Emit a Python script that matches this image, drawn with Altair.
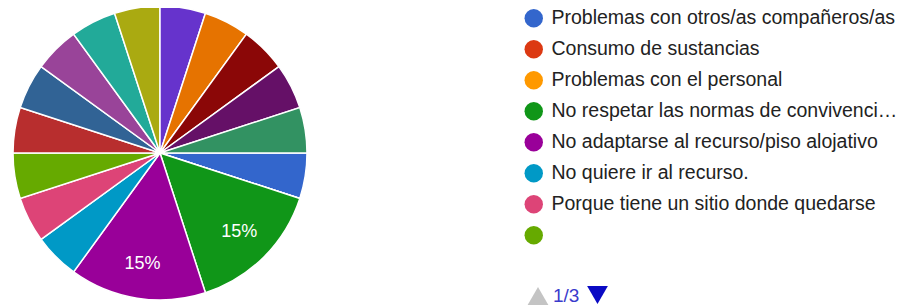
import math
import altair as alt
import pandas as pd

# --- data -------------------------------------------------------------
categories = [
    "Problemas con otros/as compañeros/as",
    "Consumo de sustancias",
    "Problemas con el personal",
    "No respetar las normas de convivencia del recurso",
    "No adaptarse al recurso/piso alojativo",
    "No quiere ir al recurso.",
    "Porque tiene un sitio donde quedarse",
    "Sin especificar",
    "Respuesta 9",
    "Respuesta 10",
    "Respuesta 11",
    "Respuesta 12",
    "Respuesta 13",
    "Respuesta 14",
    "Respuesta 15",
    "Respuesta 16",
    "Respuesta 17",
    "Respuesta 18",
]
counts = [1, 0, 0, 3, 3, 1, 1, 1, 1, 1, 1, 1, 1, 1, 1, 1, 1, 1]
colors = [
    "#3366cc", "#dc3912", "#ff9900", "#109618", "#990099", "#0099c6",
    "#dd4477", "#66aa00", "#b82e2e", "#316395", "#994499", "#22aa99",
    "#aaaa11", "#6633cc", "#e67300", "#8b0707", "#651067", "#329262",
]
legend_page = categories[:8]
page_label = ["1/3"]

total = sum(counts)
df = pd.DataFrame({
    "cat": categories,
    "n": counts,
    "idx": list(range(len(categories))),
})
df["pct"] = [f"{round(100 * c / total)}%" if c / total >= 0.1 else "" for c in counts]

TOP = 3
CX, CY, R = 152, 145 - TOP, 147
FONT = "Liberation Sans"

theta = alt.Theta("n:Q", stack=True,
                  scale=alt.Scale(range=[math.pi / 2, math.pi / 2 + 2 * math.pi]))

pie = alt.Chart(df).mark_arc(radius=R, stroke="white", strokeWidth=1.5).encode(
    theta=theta,
    order=alt.Order("idx:Q"),
    x=alt.value(CX),
    y=alt.value(CY),
    color=alt.Color(
        "cat:N",
        scale=alt.Scale(domain=categories, range=colors),
        legend=alt.Legend(
            orient="none", legendX=516, legendY=0.5 - TOP, values=legend_page,
            title=None, symbolType="circle", symbolSize=340,
            symbolStrokeWidth=0, labelFont=FONT, labelFontSize=19.5,
            labelColor="#222222", labelOffset=8, rowPadding=10,
            labelLimit=354, padding=0,
            labelExpr="datum.label === 'Sin especificar' ? '' : datum.label",
        ),
    ),
)

labels = alt.Chart(df).mark_text(
    radius=112, color="white", font=FONT, fontSize=18
).encode(
    theta=theta,
    order=alt.Order("idx:Q"),
    detail="cat:N",
    x=alt.value(CX),
    y=alt.value(CY),
    text="pct:N",
)

pager_df = pd.DataFrame({"t": page_label})
up = alt.Chart(pager_df).mark_point(
    shape="triangle-up", filled=True, size=430, color="#c4c4c4", opacity=1
).encode(x=alt.value(530), y=alt.value(288 - TOP))
down = alt.Chart(pager_df).mark_point(
    shape="triangle-down", filled=True, size=430, color="#0a0ac4", opacity=1
).encode(x=alt.value(589.5), y=alt.value(287 - TOP))
page_txt = alt.Chart(pager_df).mark_text(
    align="left", baseline="middle", font=FONT, fontSize=19, color="#3a3acc"
).encode(x=alt.value(545), y=alt.value(288 - TOP), text="t:N")

chart = alt.layer(pie, labels, up, down, page_txt).properties(
    width=892, height=292 - TOP, autosize="none",
    padding={"left": 0, "top": TOP, "right": 0, "bottom": 8},
).configure_view(stroke=None, clip=False)

chart.save("out.html", embed_options={"renderer": "svg", "actions": False})
